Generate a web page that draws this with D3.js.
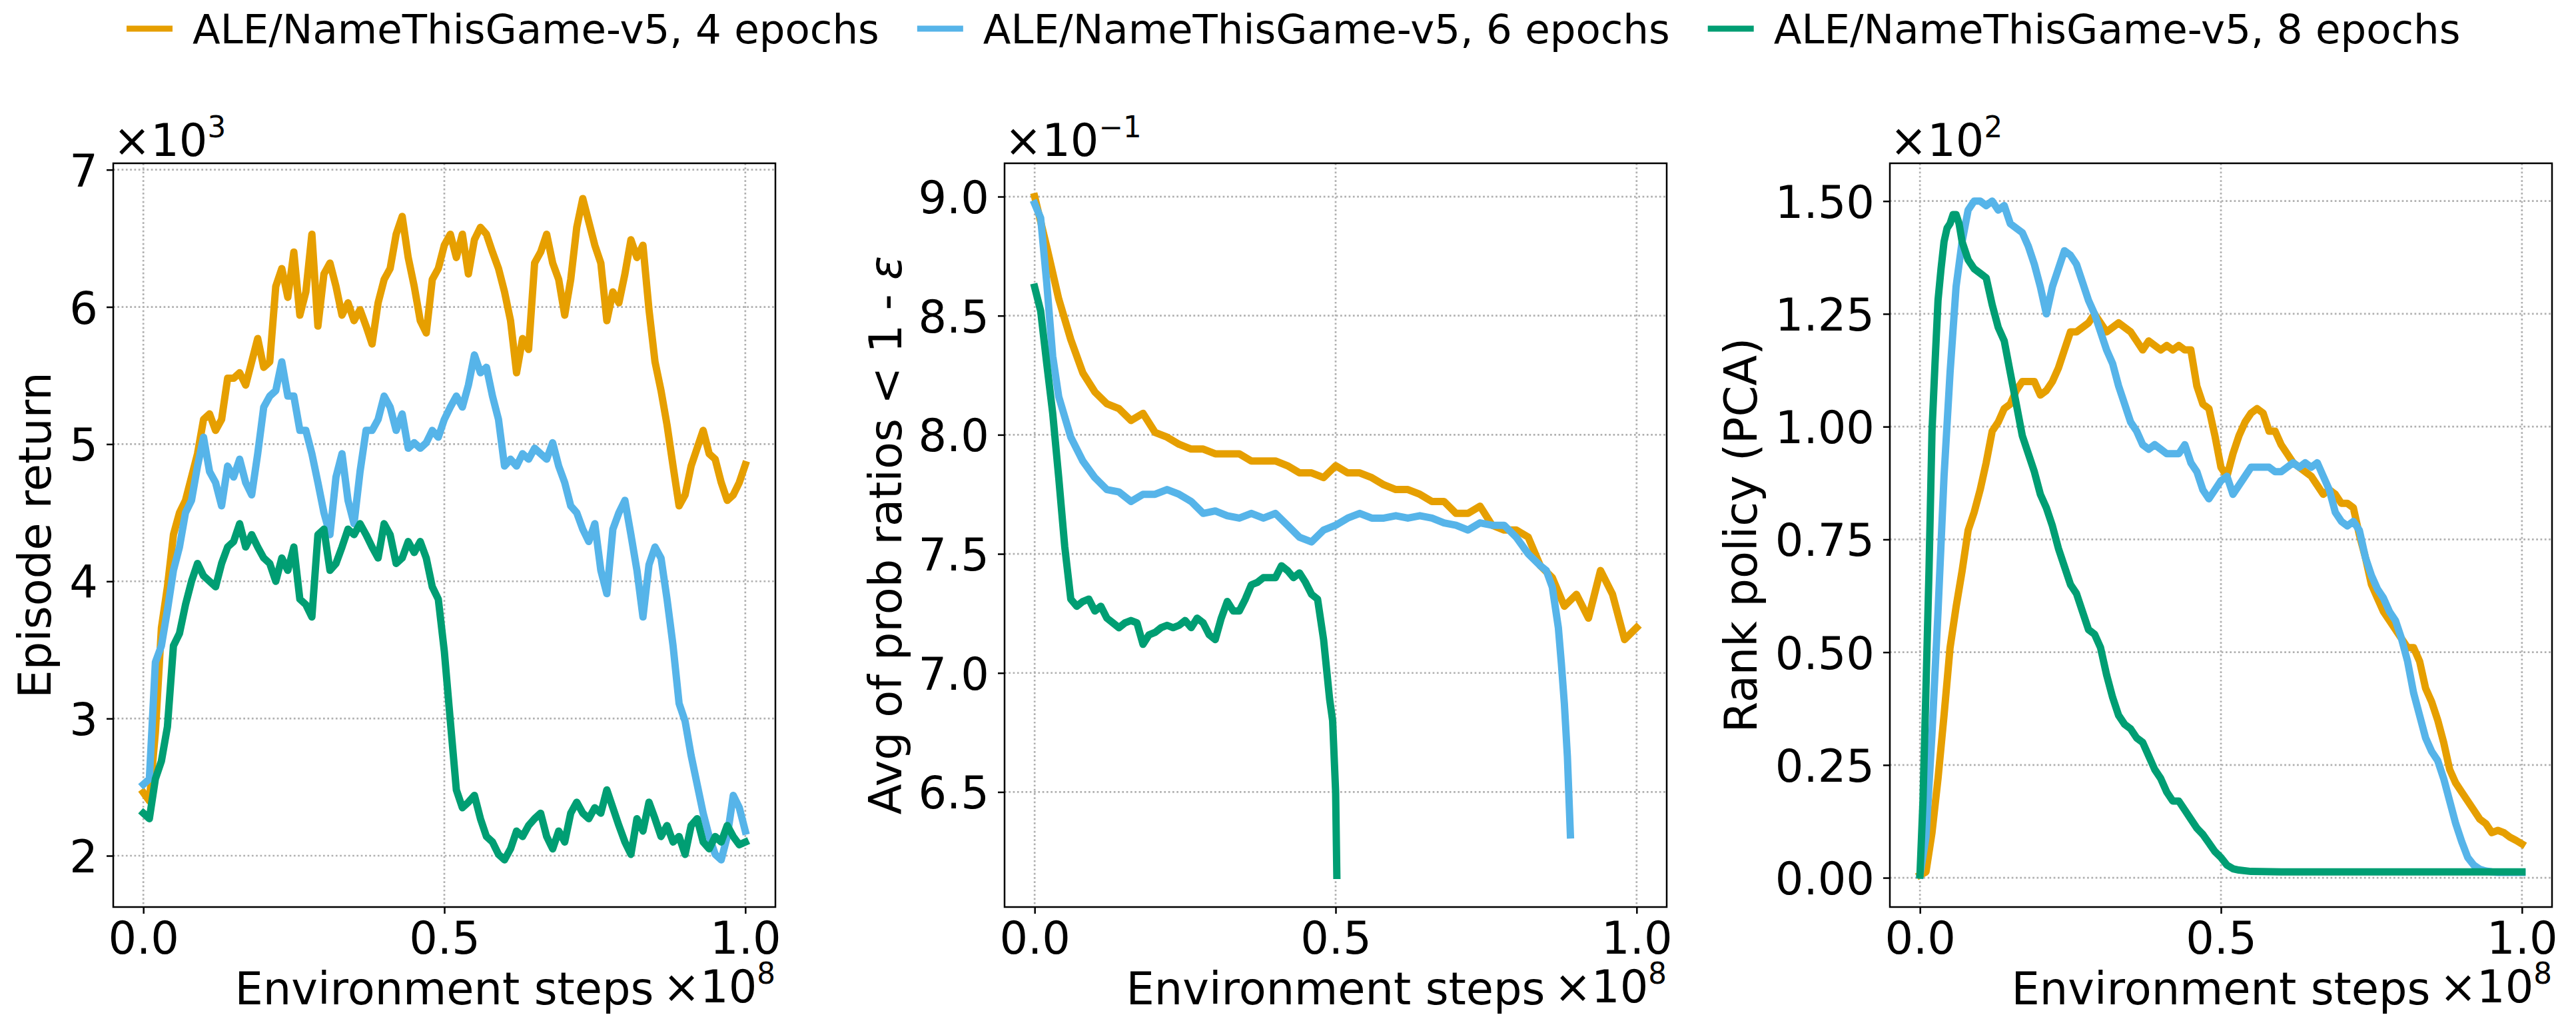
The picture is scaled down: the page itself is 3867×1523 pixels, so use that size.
<!DOCTYPE html>
<html>
<head>
<meta charset="utf-8">
<script src="https://cdn.jsdelivr.net/npm/d3@7"></script>
<style>
body { margin: 0; background: #fff; }
text { font-family: "DejaVu Sans", sans-serif; fill: #000; }
</style>
</head>
<body>
<div id="figure"></div>
<script>
// legend entries
var seriesNames = ['ALE/NameThisGame-v5, 4 epochs', 'ALE/NameThisGame-v5, 6 epochs', 'ALE/NameThisGame-v5, 8 epochs'];
var seriesColors = ['#E69F00', '#56B4E9', '#009E73'];

// environment steps (x 1e8)
var stepsFine = [0, 0.01, 0.02, 0.03, 0.04, 0.05, 0.06, 0.07, 0.08, 0.09,
    0.1, 0.11, 0.12, 0.13, 0.14, 0.15, 0.16, 0.17, 0.18, 0.19,
    0.2, 0.21, 0.22, 0.23, 0.24, 0.25, 0.26, 0.27, 0.28, 0.29,
    0.3, 0.31, 0.32, 0.33, 0.34, 0.35, 0.36, 0.37, 0.38, 0.39,
    0.4, 0.41, 0.42, 0.43, 0.44, 0.45, 0.46, 0.47, 0.48, 0.49,
    0.5, 0.51, 0.52, 0.53, 0.54, 0.55, 0.56, 0.57, 0.58, 0.59,
    0.6, 0.61, 0.62, 0.63, 0.64, 0.65, 0.66, 0.67, 0.68, 0.69,
    0.7, 0.71, 0.72, 0.73, 0.74, 0.75, 0.76, 0.77, 0.78, 0.79,
    0.8, 0.81, 0.82, 0.83, 0.84, 0.85, 0.86, 0.87, 0.88, 0.89,
    0.9, 0.91, 0.92, 0.93, 0.94, 0.95, 0.96, 0.97, 0.98, 0.99,
    1.0];
var stepsCoarse = [0, 0.02, 0.04, 0.06, 0.08, 0.1, 0.12, 0.14, 0.16, 0.18,
    0.2, 0.22, 0.24, 0.26, 0.28, 0.3, 0.32, 0.34, 0.36, 0.38,
    0.4, 0.42, 0.44, 0.46, 0.48, 0.5, 0.52, 0.54, 0.56, 0.58,
    0.6, 0.62, 0.64, 0.66, 0.68, 0.7, 0.72, 0.74, 0.76, 0.78,
    0.8, 0.82, 0.84, 0.86, 0.88, 0.9, 0.92, 0.94, 0.96, 0.98,
    1.0];

// panel 1: episode return (x 1e3), on stepsFine
var returnEpochs4 = [2.46, 2.40, 2.9, 3.66, 3.96, 4.34, 4.5, 4.59, 4.76, 4.93,
    5.18, 5.22, 5.1, 5.18, 5.48, 5.48, 5.52, 5.43, 5.6, 5.77,
    5.56, 5.6, 6.15, 6.28, 6.07, 6.4, 5.94, 6.11, 6.53, 5.86,
    6.24, 6.32, 6.15, 5.94, 6.03, 5.9, 5.98, 5.86, 5.73, 6.03,
    6.2, 6.28, 6.53, 6.66, 6.36, 6.15, 5.9, 5.81, 6.2, 6.28,
    6.45, 6.53, 6.36, 6.53, 6.24, 6.49, 6.58, 6.53, 6.4, 6.28,
    6.11, 5.9, 5.52, 5.77, 5.69, 6.32, 6.4, 6.53, 6.32, 6.2,
    5.94, 6.2, 6.58, 6.79, 6.62, 6.45, 6.32, 5.9, 6.11, 6.03,
    6.24, 6.49, 6.36, 6.45, 5.98, 5.6, 5.39, 5.14, 4.84, 4.55,
    4.63, 4.84, 4.97, 5.1, 4.93, 4.89, 4.72, 4.59, 4.63, 4.72,
    4.85];
var returnEpochs6 = [2.52, 2.56, 3.41, 3.53, 3.79, 4.08, 4.25, 4.5, 4.59, 4.84,
    5.05, 4.8, 4.72, 4.55, 4.84, 4.76, 4.89, 4.72, 4.63, 4.93,
    5.27, 5.35, 5.39, 5.6, 5.35, 5.35, 5.1, 5.1, 4.93, 4.72,
    4.5, 4.34, 4.76, 4.93, 4.59, 4.42, 4.8, 5.1, 5.1, 5.18,
    5.35, 5.27, 5.1, 5.22, 4.97, 5.01, 4.97, 5.01, 5.1, 5.05,
    5.18, 5.27, 5.35, 5.27, 5.43, 5.65, 5.52, 5.56, 5.35, 5.18,
    4.84, 4.89, 4.84, 4.93, 4.89, 4.97, 4.93, 4.89, 5.01, 4.84,
    4.72, 4.55, 4.5, 4.38, 4.29, 4.42, 4.08, 3.91, 4.38, 4.5,
    4.59, 4.34, 4.08, 3.74, 4.12, 4.25, 4.17, 3.87, 3.53, 3.11,
    2.98, 2.73, 2.52, 2.31, 2.14, 2.01, 1.97, 2.14, 2.44, 2.35,
    2.18];
var returnEpochs8 = [2.31, 2.27, 2.56, 2.69, 2.94, 3.53, 3.62, 3.83, 4.0, 4.13,
    4.04, 4.0, 3.96, 4.13, 4.25, 4.29, 4.42, 4.25, 4.34, 4.25,
    4.17, 4.13, 4.0, 4.17, 4.08, 4.25, 3.87, 3.83, 3.74, 4.34,
    4.38, 4.08, 4.13, 4.25, 4.38, 4.34, 4.42, 4.34, 4.25, 4.17,
    4.42, 4.34, 4.13, 4.17, 4.29, 4.21, 4.29, 4.17, 3.96, 3.87,
    3.49, 2.98, 2.48, 2.35, 2.39, 2.44, 2.27, 2.14, 2.1, 2.01,
    1.97, 2.05, 2.18, 2.14, 2.22, 2.27, 2.31, 2.14, 2.05, 2.18,
    2.1, 2.31, 2.39, 2.31, 2.27, 2.35, 2.31, 2.48, 2.35, 2.22,
    2.1, 2.01, 2.27, 2.18, 2.39, 2.27, 2.14, 2.22, 2.1, 2.14,
    2.01, 2.22, 2.27, 2.1, 2.05, 2.14, 2.1, 2.22, 2.14, 2.08,
    2.1];

// panel 2: avg of prob ratios (x 1e-1)
var ratioEpochs4 = [9.0, 8.79, 8.57, 8.40, 8.26, 8.18, 8.13, 8.11, 8.06, 8.09,
    8.01, 7.99, 7.96, 7.94, 7.94, 7.92, 7.92, 7.92, 7.89, 7.89,
    7.89, 7.87, 7.84, 7.84, 7.82, 7.87, 7.84, 7.84, 7.82, 7.79,
    7.77, 7.77, 7.75, 7.72, 7.72, 7.67, 7.67, 7.7, 7.62, 7.6,
    7.6, 7.57, 7.45, 7.4, 7.28, 7.33, 7.23, 7.43, 7.33, 7.14,
    7.19];
var ratioSteps6 = [0, 0.01, 0.02, 0.03, 0.04, 0.06, 0.08, 0.1, 0.12, 0.14,
    0.16, 0.18, 0.2, 0.22, 0.24, 0.26, 0.28, 0.3, 0.32, 0.34,
    0.36, 0.38, 0.4, 0.42, 0.44, 0.46, 0.48, 0.5, 0.52, 0.54,
    0.56, 0.58, 0.6, 0.62, 0.64, 0.66, 0.68, 0.7, 0.72, 0.74,
    0.76, 0.78, 0.8, 0.82, 0.84, 0.85, 0.86, 0.87, 0.875, 0.88,
    0.885, 0.89];
var ratioEpochs6 = [8.97, 8.91, 8.64, 8.33, 8.16, 7.99, 7.89, 7.82, 7.77, 7.76,
    7.72, 7.75, 7.75, 7.77, 7.75, 7.72, 7.67, 7.68, 7.66, 7.65,
    7.67, 7.65, 7.67, 7.62, 7.57, 7.55, 7.6, 7.62, 7.65, 7.67,
    7.65, 7.65, 7.66, 7.65, 7.66, 7.65, 7.63, 7.62, 7.6, 7.63,
    7.62, 7.62, 7.57, 7.5, 7.45, 7.43, 7.36, 7.19, 7.04, 6.87,
    6.65, 6.32];
var ratioSteps8 = [0, 0.01, 0.02, 0.03, 0.04, 0.05, 0.06, 0.07, 0.08, 0.09,
    0.1, 0.11, 0.12, 0.13, 0.14, 0.15, 0.16, 0.17, 0.18, 0.19,
    0.2, 0.21, 0.22, 0.23, 0.24, 0.25, 0.26, 0.27, 0.28, 0.29,
    0.3, 0.31, 0.32, 0.33, 0.34, 0.35, 0.36, 0.37, 0.38, 0.39,
    0.4, 0.41, 0.42, 0.43, 0.44, 0.45, 0.46, 0.47, 0.48, 0.49,
    0.495, 0.5, 0.502];
var ratioEpochs8 = [8.62, 8.52, 8.30, 8.09, 7.82, 7.53, 7.31, 7.28, 7.3, 7.31,
    7.26, 7.28, 7.23, 7.21, 7.19, 7.21, 7.22, 7.21, 7.12, 7.16,
    7.17, 7.19, 7.2, 7.19, 7.2, 7.22, 7.19, 7.23, 7.21, 7.16,
    7.14, 7.23, 7.3, 7.26, 7.26, 7.31, 7.37, 7.38, 7.4, 7.4,
    7.4, 7.45, 7.43, 7.4, 7.42, 7.38, 7.33, 7.31, 7.14, 6.89,
    6.8, 6.5, 6.15];

// panel 3: rank policy (x 1e2)
var rankEpochs4 = [0.006, 0.013, 0.10, 0.22, 0.36, 0.51, 0.6, 0.68, 0.77, 0.81,
    0.86, 0.92, 0.99, 1.01, 1.04, 1.05, 1.08, 1.1, 1.1, 1.1,
    1.07, 1.08, 1.1, 1.13, 1.17, 1.21, 1.21, 1.22, 1.23, 1.25,
    1.23, 1.21, 1.22, 1.23, 1.22, 1.21, 1.19, 1.17, 1.19, 1.18,
    1.17, 1.18, 1.17, 1.18, 1.17, 1.17, 1.09, 1.05, 1.04, 0.98,
    0.91, 0.89, 0.94, 0.98, 1.01, 1.03, 1.04, 1.03, 0.99, 0.99,
    0.96, 0.94, 0.92, 0.91, 0.9, 0.89, 0.87, 0.85, 0.86, 0.85,
    0.83, 0.83, 0.82, 0.76, 0.71, 0.65, 0.62, 0.59, 0.57, 0.55,
    0.53, 0.51, 0.51, 0.48, 0.42, 0.39, 0.35, 0.3, 0.24, 0.21,
    0.19, 0.17, 0.15, 0.13, 0.12, 0.10, 0.105, 0.10, 0.09, 0.083,
    0.075];
var rankEpochs6 = [0.006, 0.09, 0.32, 0.59, 0.89, 1.12, 1.31, 1.41, 1.48, 1.50,
    1.50, 1.49, 1.50, 1.48, 1.49, 1.45, 1.44, 1.43, 1.40, 1.36,
    1.31, 1.25, 1.31, 1.35, 1.39, 1.38, 1.36, 1.32, 1.28, 1.25,
    1.21, 1.17, 1.14, 1.09, 1.05, 1.01, 0.99, 0.96, 0.95, 0.96,
    0.95, 0.94, 0.94, 0.94, 0.96, 0.92, 0.9, 0.86, 0.84, 0.86,
    0.88, 0.89, 0.85, 0.87, 0.89, 0.91, 0.91, 0.91, 0.91, 0.9,
    0.9, 0.91, 0.92, 0.91, 0.92, 0.91, 0.92, 0.89, 0.86, 0.81,
    0.79, 0.78, 0.79, 0.77, 0.71, 0.67, 0.64, 0.62, 0.59, 0.57,
    0.53, 0.48, 0.41, 0.36, 0.31, 0.28, 0.26, 0.22, 0.17, 0.12,
    0.08, 0.045, 0.028, 0.019, 0.015, 0.013, 0.012, 0.012, 0.012, 0.012,
    0.012];
var rankSteps8 = [0, 0.005, 0.01, 0.015, 0.02, 0.025, 0.03, 0.035, 0.04, 0.045,
    0.05, 0.055, 0.06, 0.065, 0.07, 0.08, 0.09, 0.1, 0.11, 0.12,
    0.13, 0.14, 0.15, 0.16, 0.17, 0.18, 0.19, 0.2, 0.21, 0.22,
    0.23, 0.24, 0.25, 0.26, 0.27, 0.28, 0.29, 0.3, 0.31, 0.32,
    0.33, 0.34, 0.35, 0.36, 0.37, 0.38, 0.39, 0.4, 0.41, 0.42,
    0.43, 0.44, 0.45, 0.46, 0.47, 0.48, 0.49, 0.5, 0.51, 0.52,
    0.53, 0.55, 0.6, 0.7, 0.8, 0.9, 1.0];
var rankEpochs8 = [0.006, 0.17, 0.42, 0.68, 0.99, 1.14, 1.28, 1.35, 1.41, 1.44,
    1.45, 1.47, 1.47, 1.45, 1.41, 1.37, 1.35, 1.34, 1.33, 1.27,
    1.22, 1.19, 1.12, 1.05, 0.98, 0.94, 0.9, 0.85, 0.82, 0.78,
    0.73, 0.69, 0.65, 0.63, 0.59, 0.55, 0.54, 0.51, 0.45, 0.4,
    0.36, 0.34, 0.33, 0.31, 0.3, 0.27, 0.24, 0.22, 0.19, 0.17,
    0.17, 0.15, 0.13, 0.11, 0.096, 0.077, 0.058, 0.045, 0.028, 0.02,
    0.017, 0.014, 0.013, 0.013, 0.013, 0.013, 0.013];

// ticks
var stepTicks = [0, 0.5, 1.0];
var returnTicks = [2, 3, 4, 5, 6, 7];
var ratioTicks = [6.5, 7.0, 7.5, 8.0, 8.5, 9.0];
var rankTicks = [0, 0.25, 0.5, 0.75, 1.0, 1.25, 1.5];


function buildFigure(containerId) {
var width = 3867;
var height = 1523;

var panelTop = 245;
var panelWidth = 994;
var panelHeight = 1116;
var fontSize = 67;
var lineWidth = 11;

var svg = d3
    .select(containerId)
    .append('svg')
    .attr('width', width)
    .attr('height', height);

svg.append('rect')
    .attr('width', width)
    .attr('height', height)
    .attr('fill', '#fff');

var panels = [
    {
        left: 170,
        labelX: 76,
        label: [{ text: 'Episode return' }],
        exponent: '3',
        limits: [1.626, 7.047],
        ticks: returnTicks,
        format: d3.format('d'),
        series: [[stepsFine, returnEpochs4], [stepsFine, returnEpochs6], [stepsFine, returnEpochs8]]
    },
    {
        left: 1508,
        labelX: 1353,
        label: [{ text: 'Avg of prob ratios < 1 - ' }, { text: '\u03b5', italic: true }],
        exponent: '\u22121',
        limits: [6.017, 9.14],
        ticks: ratioTicks,
        format: d3.format('.1f'),
        series: [[stepsCoarse, ratioEpochs4], [ratioSteps6, ratioEpochs6], [ratioSteps8, ratioEpochs8]]
    },
    {
        left: 2837,
        labelX: 2637,
        label: [{ text: 'Rank policy (PCA)' }],
        exponent: '2',
        limits: [-0.0649, 1.5838],
        ticks: rankTicks,
        format: d3.format('.2f'),
        series: [[stepsFine, rankEpochs4], [stepsFine, rankEpochs6], [rankSteps8, rankEpochs8]]
    }
];

panels.forEach(function(p, i) {
    drawPanel(p, i);
});

drawLegend();

function drawPanel(p, idx) {
    var x = d3.scaleLinear().domain([-0.05, 1.05]).range([0, panelWidth]);
    var y = d3.scaleLinear().domain(p.limits).range([panelHeight, 0]);

    var g = svg.append('g')
        .attr('transform', 'translate(' + p.left + ',' + panelTop + ')');

    // dotted grid
    g.selectAll('.gridx')
        .data(stepTicks)
        .enter()
        .append('line')
        .attr('x1', function(d) { return x(d); })
        .attr('x2', function(d) { return x(d); })
        .attr('y1', 0)
        .attr('y2', panelHeight)
        .attr('stroke', '#b0b0b0')
        .attr('stroke-width', 2.7)
        .attr('stroke-dasharray', '2.7,3.6');

    g.selectAll('.gridy')
        .data(p.ticks)
        .enter()
        .append('line')
        .attr('x1', 0)
        .attr('x2', panelWidth)
        .attr('y1', function(d) { return y(d); })
        .attr('y2', function(d) { return y(d); })
        .attr('stroke', '#b0b0b0')
        .attr('stroke-width', 2.7)
        .attr('stroke-dasharray', '2.7,3.6');

    var clipId = 'clip' + idx;
    g.append('clipPath')
        .attr('id', clipId)
        .append('rect')
        .attr('width', panelWidth)
        .attr('height', panelHeight);

    var line = d3.line()
        .x(function(d) { return x(d[0]); })
        .y(function(d) { return y(d[1]); });

    p.series.forEach(function(s, k) {
        g.append('path')
            .datum(d3.zip(s[0], s[1]))
            .attr('clip-path', 'url(#' + clipId + ')')
            .attr('d', line)
            .attr('fill', 'none')
            .attr('stroke', seriesColors[k])
            .attr('stroke-width', lineWidth)
            .attr('stroke-linejoin', 'round')
            .attr('stroke-linecap', 'square');
    });

    // axes
    var yAxis = g.append('g')
        .call(d3.axisLeft(y).tickValues(p.ticks).tickFormat(p.format).tickSize(10).tickPadding(13));
    var xAxis = g.append('g')
        .attr('transform', 'translate(0,' + panelHeight + ')')
        .call(d3.axisBottom(x).tickValues(stepTicks).tickFormat(d3.format('.1f')).tickSize(10).tickPadding(12));

    [yAxis, xAxis].forEach(function(a) {
        a.select('.domain').remove();
        a.selectAll('line').attr('stroke', '#000').attr('stroke-width', 2.5);
        a.selectAll('text')
            .attr('font-family', '"DejaVu Sans", sans-serif')
            .attr('font-size', fontSize)
            .attr('fill', '#000');
    });
    yAxis.selectAll('text').attr('dy', '0.365em');

    // frame
    g.append('rect')
        .attr('width', panelWidth)
        .attr('height', panelHeight)
        .attr('fill', 'none')
        .attr('stroke', '#000')
        .attr('stroke-width', 2.5);

    // x label
    g.append('text')
        .attr('x', panelWidth / 2)
        .attr('y', 1507 - panelTop)
        .attr('text-anchor', 'middle')
        .attr('font-size', fontSize)
        .text('Environment steps');

    // offset texts
    var xOff = g.append('text')
        .attr('x', panelWidth)
        .attr('y', 1504 - panelTop)
        .attr('text-anchor', 'end')
        .attr('font-size', fontSize);
    xOff.append('tspan').text('\u00d710');
    xOff.append('tspan').attr('dy', -28).attr('font-size', fontSize * 0.65).text('8');

    var yOff = g.append('text')
        .attr('x', 0)
        .attr('y', 234 - panelTop)
        .attr('font-size', fontSize);
    yOff.append('tspan').text('\u00d710');
    yOff.append('tspan').attr('dy', -28).attr('font-size', fontSize * 0.65).text(p.exponent);

    // y label
    var yl = svg.append('text')
        .attr('transform', 'translate(' + p.labelX + ',' + (panelTop + panelHeight / 2) + ') rotate(-90)')
        .attr('text-anchor', 'middle')
        .attr('font-size', fontSize);
    p.label.forEach(function(part) {
        yl.append('tspan')
            .attr('font-style', part.italic ? 'italic' : null)
            .text(part.text);
    });
}

function drawLegend() {
    var legend = svg.append('g');
    var legendX = 190;
    var legendY = 43;
    seriesNames.forEach(function(name, i) {
        legend.append('line')
            .attr('x1', legendX)
            .attr('x2', legendX + 69)
            .attr('y1', legendY)
            .attr('y2', legendY)
            .attr('stroke', seriesColors[i])
            .attr('stroke-width', 9);
        var t = legend.append('text')
            .attr('x', legendX + 99)
            .attr('y', 65)
            .attr('font-size', 61)
            .text(name);
        legendX += 99 + t.node().getComputedTextLength() + 57;
    });
}

}

buildFigure('#figure');
</script>
</body>
</html>
